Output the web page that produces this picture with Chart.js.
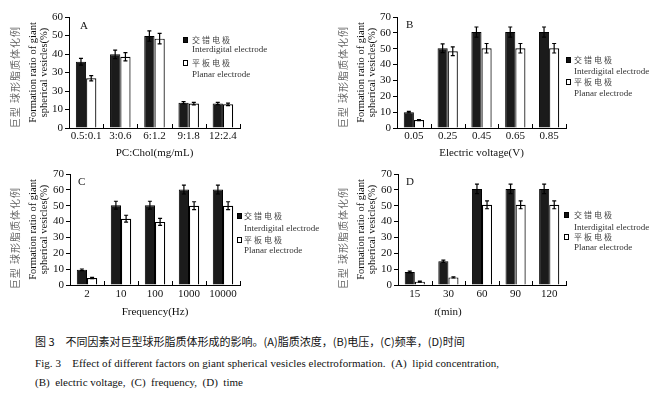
<!DOCTYPE html>
<html>
<head>
<meta charset="utf-8">
<script src="https://cdn.jsdelivr.net/npm/chart.js@4.4.1/dist/chart.umd.min.js"></script>
<style>
  html, body { margin: 0; padding: 0; background: #fff; }
  #wrap { position: relative; width: 656px; height: 393px; overflow: hidden; background: #fff; }
  canvas { position: absolute; }
  .t { position: absolute; white-space: nowrap; line-height: 1; }
  .serif { font-family: 'Liberation Serif', 'DejaVu Serif', serif; color: #111; }
  .cjk { font-family: 'Noto Sans CJK SC', sans-serif; }
  .ylab { font-family: 'Noto Sans CJK SC', sans-serif; font-size: 10px; color: #666; letter-spacing: 1px;
          transform: translate(-50%, -50%) rotate(-90deg); }
  .sq { position: absolute; width: 5px; height: 6px; border: 1px solid #000; box-sizing: border-box; }
  .leg-cn { font-family: 'Noto Sans CJK SC', sans-serif; font-size: 8px; color: #444; letter-spacing: 2px; transform: translateY(-50%); }
  .leg-en { font-family: 'Liberation Serif', serif; font-size: 9px; color: #333; transform: translateY(-50%); }
</style>
</head>
<body>
<div id="wrap">
  <canvas id="chartA" width="328" height="165" style="left:0;top:0"></canvas>
  <canvas id="chartB" width="328" height="165" style="left:328px;top:0"></canvas>
  <canvas id="chartC" width="328" height="160" style="left:0;top:165px"></canvas>
  <canvas id="chartD" width="328" height="160" style="left:328px;top:165px"></canvas>
</div>
<script>
'use strict';

// series names
const seriesCn = ['交错电极', '平板电极'];
const seriesEn = ['Interdigital electrode', 'Planar electrode'];

// A: lipid concentration
const lipidLabels = ['0.5:0.1', '3:0.6', '6:1.2', '9:1.8', '12:2.4'];
const lipidInter = [35.8, 39.8, 49.7, 13.7, 13.2];
const lipidInterErr = [1.8, 2.3, 2.8, 0.6, 0.6];
const lipidPlanar = [26.9, 38.5, 48.3, 13.2, 12.8];
const lipidPlanarErr = [1.4, 2.2, 2.8, 0.7, 0.7];
const lipidTicks = ['0', '10', '30', '30', '40', '50', '60'];

// B: electric voltage
const voltLabels = ['0.05', '0.25', '0.45', '0.65', '0.85'];
const voltInter = [10, 50.3, 60.5, 60.5, 60.5];
const voltInterErr = [0.5, 2.8, 3.2, 3.2, 3.2];
const voltPlanar = [5, 48.4, 50.3, 50.3, 50.3];
const voltPlanarErr = [0.3, 2.8, 3, 3, 3];

// C: frequency
const freqLabels = ['2', '10', '100', '1000', '10000'];
const freqInter = [9.6, 50.3, 50.3, 60.2, 60.2];
const freqInterErr = [0.5, 2.5, 2.5, 2.8, 2.8];
const freqPlanar = [4.4, 41.8, 39.8, 50, 50];
const freqPlanarErr = [0.4, 2.2, 2.2, 2.5, 2.5];

// D: time
const timeLabels = ['15', '30', '60', '90', '120'];
const timeInter = [8.2, 15, 60.6, 60.6, 60.6];
const timeInterErr = [0.5, 0.7, 3, 3, 3];
const timePlanar = [2.1, 4.8, 50.6, 50.6, 50.6];
const timePlanarErr = [0.3, 0.4, 2.5, 2.5, 2.5];

const ticks70 = ['0', '10', '20', '30', '40', '50', '60', '70'];

const SERIF = "'Liberation Serif', 'DejaVu Serif', serif";

// error bars + small inward ticks at category boundaries
const errorBars = {
    id: 'errorBars',
    afterDatasetsDraw(chart) {
        const ctx = chart.ctx;
        const ys = chart.scales.y;
        ctx.save();
        ctx.strokeStyle = '#000';
        ctx.lineWidth = 1.2;
        chart.data.datasets.forEach((ds, i) => {
            const meta = chart.getDatasetMeta(i);
            meta.data.forEach((bar, j) => {
                const v = ds.data[j], e = ds.errors[j];
                const top = ys.getPixelForValue(v + e);
                const bot = ys.getPixelForValue(v - e);
                ctx.beginPath();
                ctx.moveTo(bar.x, top); ctx.lineTo(bar.x, bot);
                ctx.moveTo(bar.x - 2, top); ctx.lineTo(bar.x + 2, top);
                ctx.moveTo(bar.x - 2, bot); ctx.lineTo(bar.x + 2, bot);
                ctx.stroke();
            });
        });
        // inward ticks between categories
        const xs = chart.scales.x;
        const b = chart.chartArea.bottom;
        ctx.lineWidth = 1;
        const n = chart.data.labels.length;
        for (let k = 1; k <= n; k++) {
            let x = k < n ? (xs.getPixelForValue(k - 1) + xs.getPixelForValue(k)) / 2 : chart.chartArea.right;
            x = Math.round(x) + 0.5;
            ctx.beginPath();
            ctx.moveTo(x, b); ctx.lineTo(x, b - 4);
            ctx.stroke();
        }
        ctx.restore();
    }
};

function makePanel(id, labels, inter, interErr, planar, planarErr, yMax, yTicks, xTitle, g) {
    return new Chart(document.getElementById(id), {
        type: 'bar',
        data: {
            labels: labels,
            datasets: [
                { label: seriesEn[0], data: inter, errors: interErr,
                  backgroundColor: '#1b1b1b', borderColor: '#000', borderWidth: 1 },
                { label: seriesEn[1], data: planar, errors: planarErr,
                  backgroundColor: '#fff', borderColor: '#000', borderWidth: 1.2 }
            ]
        },
        options: {
            responsive: false,
            animation: false,
            devicePixelRatio: 1,
            layout: { padding: { top: g.top, right: g.right, bottom: 0, left: 0 } },
            categoryPercentage: 0.6,
            barPercentage: 1.0,
            plugins: { legend: { display: false }, tooltip: { enabled: false } },
            scales: {
                x: {
                    afterFit: s => { s.height = g.xh; },
                    grid: { display: false, drawTicks: false },
                    border: { display: true, color: '#000', width: 1 },
                    ticks: { color: '#111', padding: g.tp, autoSkip: false, maxRotation: 0, minRotation: 0,
                             font: { family: SERIF, size: 11 } },
                    title: { display: !!xTitle, text: xTitle, color: '#111', padding: { top: 0, bottom: g.ttp },
                             font: { family: SERIF, size: 11 } }
                },
                y: {
                    min: 0, max: yMax,
                    afterFit: s => { s.width = g.left; },
                    grid: { drawOnChartArea: false, drawTicks: true, tickLength: 4, color: '#000' },
                    border: { display: true, color: '#000', width: 1 },
                    ticks: { stepSize: 10, autoSkip: false, color: '#111', padding: 2,
                             font: { family: SERIF, size: 11 },
                             callback: (v, i) => yTicks[i] },
                    title: { display: true, text: ['Formation ratio of giant', 'spherical vesicles(%)'],
                             color: '#111', padding: { top: 28, bottom: 0 },
                             font: { family: SERIF, size: 10.5, lineHeight: 1.0 } }
                }
            }
        },
        plugins: [errorBars]
    });
}

const geomTop = { top: 17, right: 88, left: 69, xh: 37, tp: 2, ttp: 5 };
const geomTopB = { top: 17, right: 90, left: 69, xh: 37, tp: 2, ttp: 5 };
const geomBot = { top: 9, right: 88, left: 70, xh: 40, tp: 3, ttp: 6 };
const geomBotD = { top: 9, right: 90, left: 70, xh: 40, tp: 3, ttp: 6 };

makePanel('chartA', lipidLabels, lipidInter, lipidInterErr, lipidPlanar, lipidPlanarErr, 60, lipidTicks, 'PC:Chol(mg/mL)', geomTop);
makePanel('chartB', voltLabels, voltInter, voltInterErr, voltPlanar, voltPlanarErr, 70, ticks70, 'Electric voltage(V)', geomTopB);
makePanel('chartC', freqLabels, freqInter, freqInterErr, freqPlanar, freqPlanarErr, 70, ticks70, 'Frequency(Hz)', geomBot);
makePanel('chartD', timeLabels, timeInter, timeInterErr, timePlanar, timePlanarErr, 70, ticks70, '', geomBotD);

// overlays: panel letters, chinese axis label, legends, caption
const wrap = document.getElementById('wrap');
function addText(html, cls, x, y, extra) {
    const d = document.createElement('div');
    d.className = 't ' + cls;
    d.innerHTML = html;
    d.style.left = x + 'px';
    d.style.top = y + 'px';
    if (extra) Object.assign(d.style, extra);
    wrap.appendChild(d);
    return d;
}
function addLegend(sx, tx, rows) {
    [0, 1].forEach(k => {
        const sq = document.createElement('div');
        sq.className = 'sq';
        sq.style.left = sx + 'px';
        sq.style.top = (rows[k * 2] - 3) + 'px';
        sq.style.background = k === 0 ? '#111' : '#fff';
        wrap.appendChild(sq);
        addText(seriesCn[k], 'leg-cn', tx, rows[k * 2]);
        addText(seriesEn[k], 'leg-en', tx, rows[k * 2 + 1]);
    });
}

const panels = [
    { letter: 'A', lx: 80, ly: 20, yx: 15, yy: 77, sx: 183, tx: 192, rows: [40, 49, 63, 74] },
    { letter: 'B', lx: 406, ly: 19, yx: 343, yy: 77, sx: 566, tx: 574, rows: [60, 71, 82, 93] },
    { letter: 'C', lx: 78, ly: 176, yx: 15, yy: 238, sx: 237, tx: 244, rows: [216, 228, 240, 250] },
    { letter: 'D', lx: 406, ly: 176, yx: 343, yy: 238, sx: 564, tx: 574, rows: [215, 227, 237, 247] }
];
panels.forEach(p => {
    addText(p.letter, 'serif', p.lx, p.ly, { fontSize: '11px' });
    addText('巨型 球形脂质体化例', 'ylab', p.yx, p.yy);
    addLegend(p.sx, p.tx, p.rows);
});

// D axis title with italic t
addText('<i>t</i>(min)', 'serif', 448, 311, { fontSize: '11px', transform: 'translate(-50%,-50%)' });

// caption
addText('图 3　不同因素对巨型球形脂质体形成的影响。(A)脂质浓度，(B)电压，(C)频率，(D)时间', 'cjk', 35, 341,
    { fontSize: '11px', color: '#111', transform: 'translateY(-50%)' });
addText('Fig. 3&nbsp;&nbsp;&nbsp; Effect of different factors on giant spherical vesicles electroformation. &nbsp;(A)&nbsp; lipid concentration,', 'serif', 35, 363,
    { fontSize: '11px', letterSpacing: '0.06px', transform: 'translateY(-50%)' });
addText('(B)&nbsp; electric voltage,&nbsp; (C)&nbsp; frequency,&nbsp; (D)&nbsp; time', 'serif', 35, 382,
    { fontSize: '11px', transform: 'translateY(-50%)' });
</script>
</body>
</html>
